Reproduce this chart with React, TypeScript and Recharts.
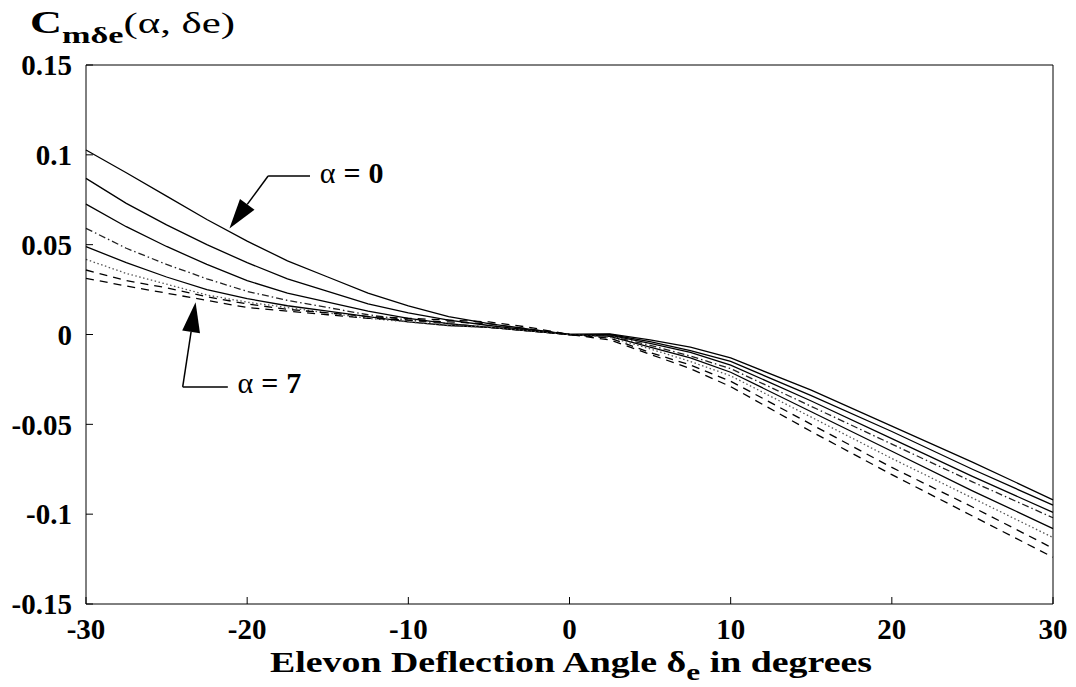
import { LineChart, Line, XAxis, YAxis, ReferenceLine, ReferenceDot } from "recharts"

// elevon deflection (deg)
const deflection = [-30, -27.5, -25, -22.5, -20, -17.5, -15, -12.5, -10, -7.5, -5, -2.5, 0, 2.5, 5, 7.5, 10, 15, 20, 25, 30]

// Cm_de for alpha = 0 .. 7
const cmA0 = [0.1027, 0.09, 0.077, 0.064, 0.052, 0.041, 0.032, 0.023, 0.016, 0.01, 0.006, 0.003, 0, 0.0003, -0.003, -0.007, -0.013, -0.031, -0.051, -0.071, -0.092]
const cmA1 = [0.0869, 0.073, 0.061, 0.05, 0.04, 0.031, 0.024, 0.017, 0.012, 0.008, 0.005, 0.0025, 0, 0, -0.004, -0.009, -0.015, -0.034, -0.054, -0.075, -0.095]
const cmA2 = [0.0726, 0.06, 0.049, 0.039, 0.03, 0.023, 0.018, 0.013, 0.009, 0.006, 0.004, 0.002, 0, -0.0003, -0.005, -0.01, -0.017, -0.037, -0.058, -0.079, -0.099]
const cmA3 = [0.0591, 0.048, 0.039, 0.031, 0.024, 0.019, 0.015, 0.011, 0.008, 0.006, 0.004, 0.002, 0, -0.0008, -0.006, -0.012, -0.019, -0.04, -0.061, -0.082, -0.102]
const cmA4 = [0.0489, 0.04, 0.032, 0.025, 0.02, 0.016, 0.013, 0.01, 0.007, 0.005, 0.004, 0.002, 0, -0.001, -0.007, -0.013, -0.021, -0.043, -0.065, -0.087, -0.108]
const cmA5 = [0.0418, 0.034, 0.028, 0.022, 0.018, 0.015, 0.012, 0.009, 0.007, 0.005, 0.004, 0.002, 0, -0.0015, -0.008, -0.015, -0.023, -0.046, -0.069, -0.091, -0.113]
const cmA6 = [0.0359, 0.03, 0.026, 0.021, 0.017, 0.014, 0.012, 0.01, 0.009, 0.008, 0.007, 0.004, 0, -0.002, -0.01, -0.017, -0.026, -0.05, -0.074, -0.096, -0.119]
const cmA7 = [0.0313, 0.027, 0.023, 0.019, 0.015, 0.013, 0.011, 0.009, 0.008, 0.007, 0.006, 0.003, 0, -0.003, -0.011, -0.019, -0.029, -0.054, -0.078, -0.101, -0.124]

const series = [cmA0, cmA1, cmA2, cmA3, cmA4, cmA5, cmA6, cmA7]

const xTicks = [-30, -20, -10, 0, 10, 20, 30]
const yTicks = [-0.15, -0.1, -0.05, 0, 0.05, 0.1, 0.15]

// line styles per alpha
const lineLook = [
  { stroke: "#000", dash: undefined },
  { stroke: "#000", dash: undefined },
  { stroke: "#000", dash: undefined },
  { stroke: "#222", dash: "7 3 1.5 3" },
  { stroke: "#000", dash: undefined },
  { stroke: "#555", dash: "1.5 2.5" },
  { stroke: "#000", dash: "8 6" },
  { stroke: "#000", dash: "8 6" },
]

const data = deflection.map((d, i) => {
  const row: Record<string, number> = { de: d }
  series.forEach((s, k) => (row["a" + k] = s[i]))
  return row
})

const serif = '"Liberation Serif", "Times New Roman", serif'
const tickFont = { fontFamily: serif, fontWeight: 700, fontSize: 29, fill: "#000" }

function Arrow(p: any) {
  const { x1, y1, x2, y2 } = p
  const dx = x2 - x1
  const dy = y2 - y1
  const len = Math.sqrt(dx * dx + dy * dy)
  const ux = dx / len
  const uy = dy / len
  const head = 30
  const half = 9
  const bx = x2 - ux * head
  const by = y2 - uy * head
  return (
    <g>
      <line x1={x1} y1={y1} x2={bx} y2={by} stroke="#000" strokeWidth={1.5} />
      <polygon
        points={`${x2},${y2} ${bx - uy * half},${by + ux * half} ${bx + uy * half},${by - ux * half}`}
        fill="#000"
      />
    </g>
  )
}

const alphaLabel = (value: string) => (p: any) => (
  <text x={p.cx} y={p.cy} fontFamily={serif} fontSize={30} fill="#000">
    <tspan>α</tspan>
    <tspan dx={8} fontWeight={700}>=</tspan>
    <tspan dx={8} fontWeight={700}>{value}</tspan>
  </text>
)

export default function App() {
  return (
    <div style={{ position: "absolute", left: 0, top: 0, width: 1076, height: 687, background: "#fff" }}>
      <LineChart
        width={1076}
        height={687}
        data={data}
        margin={{ top: 65, right: 23, left: 6, bottom: 33 }}
      >
        <XAxis
          dataKey="de"
          type="number"
          domain={[-30, 30]}
          ticks={xTicks}
          stroke="#000"
          tickSize={-7}
          tickMargin={21}
          height={50}
          tick={tickFont}
        />
        <XAxis
          xAxisId="top"
          orientation="top"
          mirror
          type="number"
          domain={[-30, 30]}
          ticks={xTicks}
          stroke="#000"
          tickSize={7}
          tick={false}
        />
        <YAxis
          type="number"
          domain={[-0.15, 0.15]}
          ticks={yTicks}
          stroke="#000"
          tickSize={-7}
          tickMargin={21}
          width={80}
          tick={tickFont}
        />
        <YAxis
          yAxisId="right"
          orientation="right"
          mirror
          type="number"
          domain={[-0.15, 0.15]}
          ticks={yTicks}
          stroke="#000"
          tickSize={7}
          tick={false}
        />
        {series.map((_, k) => (
          <Line
            key={k}
            dataKey={"a" + k}
            type="linear"
            stroke={lineLook[k].stroke}
            strokeDasharray={lineLook[k].dash}
            strokeWidth={1.3}
            dot={false}
            isAnimationActive={false}
          />
        ))}
        {/* alpha = 0 callout */}
        <ReferenceLine segment={[{ x: -16.1, y: 0.0882 }, { x: -18.7, y: 0.0882 }]} stroke="#000" strokeWidth={1.5} />
        <ReferenceLine segment={[{ x: -18.7, y: 0.0882 }, { x: -21.1, y: 0.059 }]} shape={Arrow} />
        <ReferenceDot x={-15.5} y={0.0842} r={0} shape={alphaLabel("0")} />
        {/* alpha = 7 callout */}
        <ReferenceLine segment={[{ x: -21.2, y: -0.0292 }, { x: -24.0, y: -0.0292 }]} stroke="#000" strokeWidth={1.5} />
        <ReferenceLine segment={[{ x: -24.0, y: -0.0292 }, { x: -23.2, y: 0.018 }]} shape={Arrow} />
        <ReferenceDot x={-20.6} y={-0.0325} r={0} shape={alphaLabel("7")} />
      </LineChart>
      <svg
        width={1076}
        height={687}
        style={{ position: "absolute", left: 0, top: 0, pointerEvents: "none" }}
      >
        <text x={30} y={33} fontFamily={serif} fill="#000" textLength={205} lengthAdjust="spacingAndGlyphs">
          <tspan fontSize={31} fontWeight={700}>C</tspan>
          <tspan fontSize={24} fontWeight={700} dy={10}>mδe</tspan>
          <tspan fontSize={30} dy={-10}>(α, δe)</tspan>
        </text>
        <text
          x={270}
          y={672}
          fontFamily={serif}
          fontWeight={700}
          fill="#000"
          textLength={602}
          lengthAdjust="spacingAndGlyphs"
        >
          <tspan fontSize={29}>Elevon Deflection Angle δ</tspan>
          <tspan fontSize={24} dy={8}>e</tspan>
          <tspan fontSize={29} dy={-8}> in degrees</tspan>
        </text>
      </svg>
    </div>
  )
}
